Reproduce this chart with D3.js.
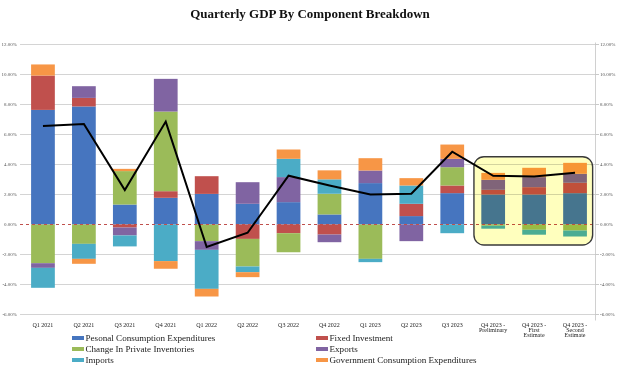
<!DOCTYPE html>
<html><head><meta charset="utf-8">
<script src="https://cdn.jsdelivr.net/npm/d3@7"></script>
<style>
html,body{margin:0;padding:0;background:#fff;}
svg{display:block;font-family:"Liberation Serif","DejaVu Serif",serif;}
</style></head>
<body><svg id="chart" width="620" height="369"></svg>
<script>
const categories = ["Q1 2021","Q2 2021","Q3 2021","Q4 2021","Q1 2022","Q2 2022","Q3 2022","Q4 2022","Q1 2023","Q2 2023","Q3 2023","Q4 2023 -|Preliminary","Q4 2023 -|First|Estimate","Q4 2023 -|Second|Estimate"];
const pce         = [7.64, 7.87, 1.33, 1.78, 2.04, 1.38, 1.49, 0.67, 2.76, 0.56, 2.09, 2.00, 2.00, 2.09];
const fixedInv    = [2.29, 0.57, -0.20, 0.44, 1.18, -0.96, -0.58, -0.67, 0.00, 0.82, 0.51, 0.31, 0.49, 0.69];
const inventories = [-2.58, -1.29, 2.23, 5.31, -1.11, -1.84, -1.27, 1.38, -2.29, 0.00, 1.22, -0.08, -0.35, -0.40];
const exportsV    = [-0.31, 0.78, -0.53, 2.18, -0.58, 1.44, 1.67, -0.51, 0.84, -1.11, 0.56, 0.67, 0.67, 0.60];
const importsV    = [-1.33, -1.00, -0.73, -2.44, -2.60, -0.38, 1.22, 0.96, -0.22, 1.22, -0.58, -0.20, -0.33, -0.40];
const government  = [0.74, -0.33, 0.15, -0.51, -0.51, -0.33, 0.62, 0.60, 0.82, 0.49, 0.95, 0.46, 0.62, 0.73];
const gdp         = [6.57, 6.70, 2.30, 6.86, -1.50, -0.55, 3.25, 2.60, 2.00, 2.05, 4.85, 3.25, 3.20, 3.45];
const yTicks      = [12, 10, 8, 6, 4, 2, 0, -2, -4, -6];
const seriesNames = ["Pesonal Consumption Expenditures","Fixed Investment","Change In Private Inventories","Exports","Imports","Government Consumption Expenditures"];
const seriesColors = ["#4675BF","#C0504D","#9BBB59","#8064A2","#4BACC6","#F79646"];
const highlighted = [11, 12, 13];

const seriesData = [pce, fixedInv, inventories, exportsV, importsV, government];
const keys = seriesNames;
const table = categories.map((c, i) => {
  const o = {cat: c};
  keys.forEach((k, j) => o[k] = seriesData[j][i]);
  return o;
});

const svg = d3.select("#chart");
const x = d3.scaleBand().domain(categories).range([22.5, 595.5]).paddingInner(0.42).paddingOuter(0.21);
const y = d3.scaleLinear().domain([-6, 12]).range([314.5, 44.5]);

// title
svg.append("text").attr("x", 310).attr("y", 18).attr("text-anchor", "middle")
  .attr("font-size", 13).attr("font-weight", "bold").attr("fill", "#111")
  .text("Quarterly GDP By Component Breakdown");

// gridlines
svg.append("g").selectAll("line").data(yTicks.filter(t => t !== 0)).join("line")
  .attr("x1", 20).attr("x2", 595.5)
  .attr("y1", d => y(d)).attr("y2", d => y(d))
  .attr("stroke", "#d4d4d4").attr("stroke-width", 1);

// right axis line
svg.append("line").attr("x1", 595.5).attr("x2", 595.5).attr("y1", y(12) - 2).attr("y2", y(-6) + 6)
  .attr("stroke", "#d0d0d0").attr("stroke-width", 1);

// left axis labels
const fmt = d => d.toFixed(2) + "%";
svg.append("g").selectAll("text").data(yTicks).join("text")
  .attr("x", 17).attr("y", d => y(d) + 1.8).attr("text-anchor", "end")
  .attr("font-size", 5).attr("fill", "#555").text(fmt);
// right axis ticks + labels
svg.append("g").selectAll("line").data(yTicks).join("line")
  .attr("x1", 595.5).attr("x2", 599).attr("y1", d => y(d)).attr("y2", d => y(d))
  .attr("stroke", "#bbb").attr("stroke-width", 0.8);
svg.append("g").selectAll("text").data(yTicks).join("text")
  .attr("x", 600).attr("y", d => y(d) + 1.8).attr("text-anchor", "start")
  .attr("font-size", 5).attr("fill", "#555").text(fmt);

// stacked bars
const stack = d3.stack().keys(keys).offset(d3.stackOffsetDiverging);
const stacked = stack(table);
svg.append("g").selectAll("g").data(stacked).join("g")
  .attr("fill", (d, i) => seriesColors[i])
  .selectAll("rect").data(d => d).join("rect")
  .attr("x", d => x(d.data.cat))
  .attr("width", x.bandwidth())
  .attr("y", d => y(Math.max(d[0], d[1])))
  .attr("height", d => Math.abs(y(d[0]) - y(d[1])));

// zero line dashed
svg.append("line").attr("x1", 20).attr("x2", 595.5).attr("y1", y(0)).attr("y2", y(0))
  .attr("stroke", "#C0504D").attr("stroke-width", 1).attr("stroke-dasharray", "3,3");

// highlight box
const step = x.step();
const bx0 = x(categories[highlighted[0]]) - 0.18 * step;
const bx1 = x(categories[highlighted[highlighted.length - 1]]) + x.bandwidth() + 0.14 * step;
svg.append("rect").attr("x", bx0).attr("y", y(4.52)).attr("width", bx1 - bx0).attr("height", y(-1.37) - y(4.52))
  .attr("rx", 10).attr("ry", 10).attr("fill", "#FFFFBE").style("mix-blend-mode", "multiply");
svg.append("rect").attr("x", bx0).attr("y", y(4.52)).attr("width", bx1 - bx0).attr("height", y(-1.37) - y(4.52))
  .attr("rx", 10).attr("ry", 10).attr("fill", "none").attr("stroke", "#3a3a3a").attr("stroke-width", 1.4);

// GDP line
const line = d3.line().x((d, i) => x(categories[i]) + x.bandwidth() / 2).y(d => y(d));
svg.append("path").datum(gdp).attr("d", line).attr("fill", "none")
  .attr("stroke", "#000").attr("stroke-width", 2).attr("stroke-linejoin", "miter");

// x labels
const xl = svg.append("g").selectAll("text").data(categories).join("text")
  .attr("x", d => x(d) + x.bandwidth() / 2).attr("y", 327)
  .attr("text-anchor", "middle").attr("font-size", 6).attr("fill", "#222");
xl.each(function(d) {
  const parts = d.split("|");
  const t = d3.select(this);
  parts.forEach((p, i) => t.append("tspan").attr("x", x(d) + x.bandwidth() / 2).attr("dy", i === 0 ? 0 : 5.2).text(p));
});

// legend
const legendPos = [[72, 338], [316, 338], [72, 349], [316, 349], [72, 360], [316, 360]];
const lg = svg.append("g").selectAll("g").data(seriesNames).join("g")
  .attr("transform", (d, i) => `translate(${legendPos[i][0]},${legendPos[i][1]})`);
lg.append("rect").attr("x", 0).attr("y", -2).attr("width", 12).attr("height", 4)
  .attr("fill", (d, i) => seriesColors[i]);
lg.append("text").attr("x", 13.5).attr("y", 3).attr("font-size", 9.1).attr("fill", "#222").text(d => d);
</script></body></html>
